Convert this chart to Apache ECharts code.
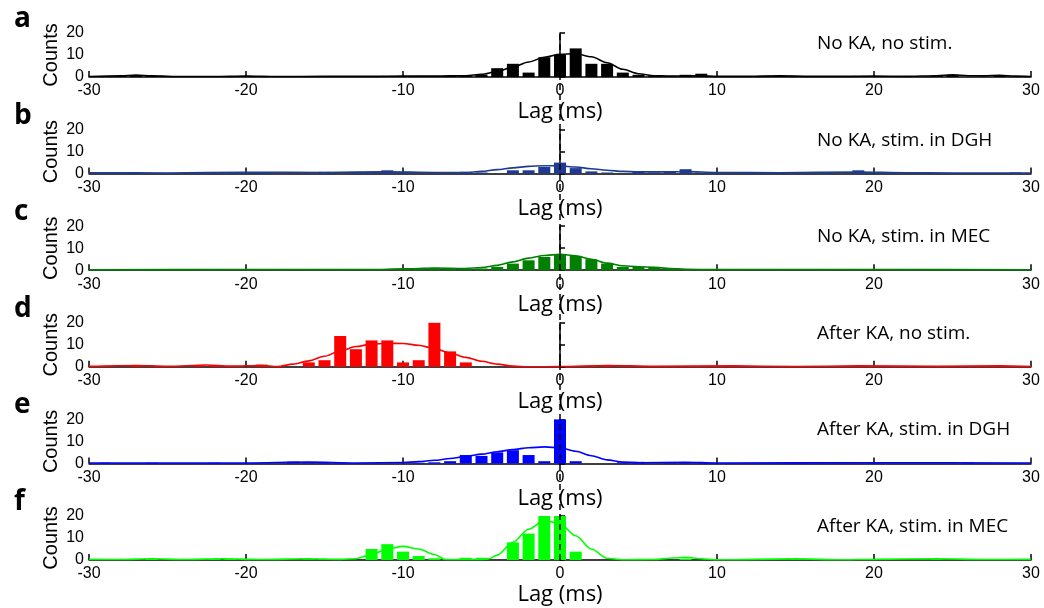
<!DOCTYPE html>
<html><head><meta charset="utf-8">
<script src="https://cdn.jsdelivr.net/npm/echarts@6/dist/echarts.min.js"></script>
<style>html,body{margin:0;padding:0;background:#fff}#c{width:1044px;height:608px}</style>
</head><body><div id="c"></div>
<script>
// Panel labels and titles
const panelLetters = ['a','b','c','d','e','f'];
const panelTitles = ['No KA, no stim.','No KA, stim. in DGH','No KA, stim. in MEC','After KA, no stim.','After KA, stim. in DGH','After KA, stim. in MEC'];
const panelColors = ['#000000','#1f3a93','#008000','#ff0000','#0000ff','#00ff00'];
const xTicks = [-30,-20,-10,0,10,20,30];
const yTicks = [0,10,20];

// Histogram bars: [lag (ms), counts]
const barsA = [[-28,0.5],[-27,0.8],[-26,0.5],[-21,0.3],[-20,0.5],[-16,0.3],[-15,0.3],[-12,0.3],[-11,0.5],[-10,0.5],[-9,0.5],[-8,0.5],[-7,0.5],[-6,0.5],[-5,1],[-4,4],[-3,6],[-2,2],[-1,9],[0,10],[1,13],[2,6],[3,6],[4,2],[5,1],[6,0.5],[7,0.5],[8,1],[9,1.5],[13,0.5],[14,0.5],[19,0.5],[24,0.5],[25,1],[28,0.8]];
const barsB = [[-29,0.5],[-28,0.5],[-27,0.5],[-25,0.3],[-23,0.5],[-22,0.5],[-21,0.7],[-20,0.7],[-19,0.5],[-15,0.8],[-13,0.5],[-12,0.8],[-11,1.5],[-10,0.8],[-6,0.8],[-5,0.5],[-3,1.5],[-2,1.5],[-1,3],[0,5],[1,2.5],[2,1],[3,0.5],[5,1],[6,0.5],[7,1],[8,2],[9,0.5],[10,0.5],[12,0.5],[14,0.7],[17,0.5],[19,1.5],[20,0.5],[21,0.5],[25,0.3],[27,0.3],[29,0.5]];
const barsC = [[-28,0.3],[-26,0.3],[-24,0.3],[-22,0.3],[-20,0.5],[-18,0.3],[-16,0.3],[-14,0.3],[-12,0.3],[-10,0.5],[-9,0.8],[-8,1],[-7,0.8],[-6,0.5],[-5,0.8],[-4,1.5],[-3,3],[-2,4.5],[-1,6],[0,7],[1,6.5],[2,5],[3,3],[4,1.5],[5,1.5],[6,1.5],[7,0.8],[8,0.5],[9,0.3],[11,0.3],[14,0.3],[17,0.3],[19,0.3],[22,0.3],[24,0.3]];
const barsD = [[-29,0.3],[-27,0.5],[-23,0.7],[-22,0.7],[-21,0.3],[-19,1],[-16,2],[-15,3],[-14,14],[-13,8],[-12,12],[-11,12],[-10,2],[-9,3],[-8,20],[-7,7],[-6,2],[1,0.3],[2,0.5],[3,0.7],[4,0.3],[11,0.5],[12,0.3],[19,0.3],[28,0.5]];
const barsE = [[-29,0.3],[-26,0.3],[-22,0.3],[-17,0.8],[-16,0.6],[-15,0.6],[-14,0.3],[-9,0.3],[-8,0.5],[-7,1],[-6,3.8],[-5,3.4],[-4,5],[-3,6],[-2,3.8],[-1,1],[0,20],[1,1],[4,0.5],[5,0.7],[7,0.3],[8,0.5],[9,0.3],[15,0.3],[20,0.3],[26,0.3]];
const barsF = [[-26,0.5],[-22,0.5],[-21,0.5],[-16,0.3],[-15,0.3],[-12,5],[-11,7.2],[-10,3.8],[-9,1.8],[-8,0.8],[-6,1],[-5,1],[-3,8],[-2,12],[-1,20],[0,20],[1,3.8],[8,0.5],[15,0.3],[24,0.3]];

// Fitted curves: [lag (ms), counts]
const fitA = [[-30,0.2],[-28,0.5],[-27,0.9],[-26,0.5],[-24,0.2],[-22,0.2],[-20,0.4],[-18,0.2],[-15,0.3],[-12,0.3],[-10,0.4],[-8,0.4],[-6,0.6],[-5,1.2],[-4,2.5],[-3,4.5],[-2,6.8],[-1,9],[0,10.3],[1,10.6],[2,9.2],[3,6.5],[4,3.5],[5,1.5],[6,0.6],[7,0.4],[8,0.5],[9,0.5],[10,0.3],[12,0.3],[14,0.5],[16,0.3],[18,0.3],[20,0.4],[22,0.3],[24,0.6],[25,1],[26,0.6],[27,0.5],[28,0.8],[29,0.4],[30,0.2]];
const fitB = [[-30,0.4],[-25,0.3],[-20,0.6],[-15,0.5],[-11,0.8],[-8,0.5],[-6,0.5],[-5,1],[-4,1.8],[-3,2.6],[-2,3.3],[-1,3.6],[0,3.5],[1,3],[2,2.2],[3,1.5],[4,1],[5,0.8],[7,0.8],[8,0.9],[10,0.5],[14,0.4],[19,0.7],[22,0.4],[25,0.3],[30,0.3]];
const fitC = [[-30,0.2],[-20,0.3],[-12,0.3],[-10,0.6],[-8,1],[-6,0.8],[-5,1.2],[-4,2.2],[-3,3.8],[-2,5.5],[-1,6.7],[0,7.2],[1,6.6],[2,5],[3,3.2],[4,2],[5,1.6],[6,1.3],[7,0.8],[8,0.4],[10,0.3],[20,0.3],[30,0.2]];
const fitD = [[-30,0.2],[-27,0.6],[-25,0.2],[-22.5,0.8],[-21,0.3],[-19,0.6],[-18,0.1],[-17,1.2],[-16,2.7],[-15,4.8],[-14,7.2],[-13,9.2],[-12,10.3],[-11,10.7],[-10,10.6],[-9,9.8],[-8,8.3],[-7,6.3],[-6,4.3],[-5,2.5],[-4,1.2],[-3,0.3],[-2,0],[0,0.1],[3,0.6],[6,0.2],[11,0.4],[15,0.1],[19,0.4],[24,0.2],[28,0.4],[30,0.1]];
const fitE = [[-30,0.2],[-20,0.2],[-16,0.6],[-13,0.2],[-10,0.4],[-9,0.8],[-8,1.4],[-7,2.2],[-6,3.2],[-5,4.2],[-4,5.3],[-3,6.3],[-2,7.1],[-1,7.5],[0,7.1],[1,5.5],[2,3.5],[3,1.6],[4,0.6],[5,0.3],[8,0.5],[10,0.2],[20,0.3],[30,0.2]];
const fitF = [[-30,0.3],[-28,0.2],[-26,0.6],[-24,0.2],[-21.5,0.6],[-19,0.2],[-16,0.6],[-14,0.3],[-13,0.6],[-12,2.5],[-11,5],[-10,6.2],[-9,5],[-8,2.5],[-7.3,0.2],[-6,0.2],[-5,0.2],[-4.5,0.6],[-4,2.2],[-3,8],[-2,14],[-1,18],[0,16.5],[1,11],[2,5],[3,0.8],[4,0.1],[6,0.2],[7,0.8],[8,1.2],[9,0.6],[10,0.1],[15,0.5],[18,0.1],[20,0.3],[24,0.6],[27,0.2],[30,0.3]];
const zeroLine = [[0,0],[0,1]];

const allBars = [barsA,barsB,barsC,barsD,barsE,barsF];
const allFits = [fitA,fitB,fitC,fitD,fitE,fitF];

const chart = echarts.init(document.getElementById('c'), null, {renderer:'canvas'});
const L = 89, R = 13, H = 44, base0 = 77, step = 96.6;
const grids = [], xAxes = [], yAxes = [], series = [], titles = [];
const tickFont = {fontFamily:'"Liberation Sans", Arial, sans-serif', fontSize:16, color:'#000'};
for (let i = 0; i < 6; i++) {
  const base = base0 + i*step;
  grids.push({left:L, right:R, top:base-H, height:H});
  xAxes.push({type:'value', gridIndex:i, min:xTicks[0], max:xTicks[xTicks.length-1], interval:10,
    axisLine:{lineStyle:{color:'#000', width:1.5}}, axisTick:{inside:true, length:6, lineStyle:{color:'#000', width:1.5}},
    axisLabel:Object.assign({margin:6}, tickFont), splitLine:{show:false},
    name:'Lag (ms)', nameLocation:'middle', nameGap:24, nameMoveOverlap:false,
    nameTextStyle:{fontFamily:'"Open Sans", sans-serif', fontSize:22, color:'#000'}});
  yAxes.push({type:'value', gridIndex:i, min:yTicks[0], max:yTicks[yTicks.length-1], interval:10,
    axisLine:{show:true, lineStyle:{color:'#000', width:1.5}}, axisTick:{show:true, inside:true, length:5, lineStyle:{color:'#000', width:1.5}},
    axisLabel:Object.assign({margin:5}, tickFont), splitLine:{show:false},
    name:'Counts', nameLocation:'middle', nameRotate:90, nameGap:28, nameMoveOverlap:false,
    nameTextStyle:{fontFamily:'"Liberation Sans", Arial, sans-serif', fontSize:20, color:'#000'}});
  series.push({type:'bar', xAxisIndex:i, yAxisIndex:i, data:allBars[i], barWidth:12, itemStyle:{color:panelColors[i]}, silent:true});
  series.push({type:'line', xAxisIndex:i, yAxisIndex:i, data:allFits[i], smooth:0.3, smoothMonotone:'x', symbol:'none',
    lineStyle:{color:panelColors[i], width:1.6}, silent:true, z:3});
  titles.push({text:panelLetters[i], left:9, top:base-77, textStyle:{fontFamily:'"Open Sans", sans-serif', fontWeight:'bold', fontSize:28, color:'#000'}});
  titles.push({text:panelTitles[i], left:812, top:base-48, textStyle:{fontFamily:'"Open Sans", sans-serif', fontWeight:'normal', fontSize:19, color:'#000'}});
}
// overlay grid for dashed zero-lag line
grids.push({left:L, right:R, top:base0-H, height:5*step+H});
xAxes.push({type:'value', gridIndex:6, min:-30, max:30, show:false});
yAxes.push({type:'value', gridIndex:6, min:0, max:1, show:false});
series.push({type:'line', xAxisIndex:6, yAxisIndex:6, data:zeroLine, symbol:'none', silent:true, z:10,
  lineStyle:{color:'#000', width:1.5, type:[6,4]}});

chart.setOption({animation:false, backgroundColor:'#fff', title:titles, grid:grids, xAxis:xAxes, yAxis:yAxes, series:series});
</script></body></html>
